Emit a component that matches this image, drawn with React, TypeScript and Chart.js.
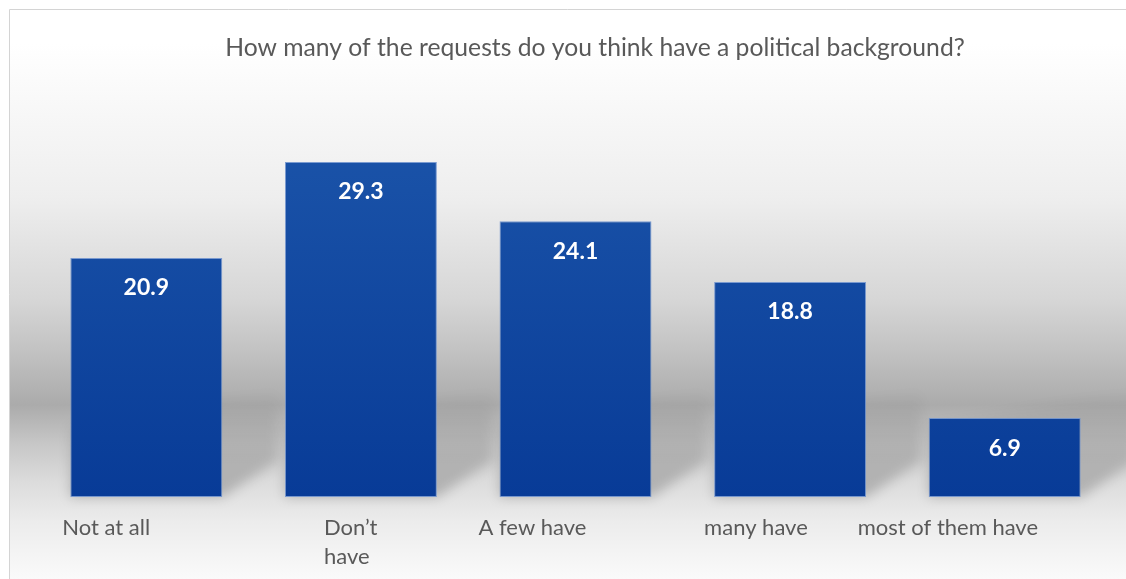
import React, { useEffect, useRef } from "react";
import { Chart, registerables } from "chart.js";

Chart.register(...registerables);

const title = "How many of the requests do you think have a political background?";
const categories: (string | string[])[] = ["Not at all", ["Don\u2019t", "have"], "A few have", "many have", "most of them have"];
const values = [20.9, 29.3, 24.1, 18.8, 6.9];
const labelOffsets = [-84, -37, -97, -86, -147];

const FONT = "Lato, 'Open Sans', sans-serif";

const decorPlugin = {
  id: "decor",
  beforeDraw(chart: any) {
    const ctx = chart.ctx as CanvasRenderingContext2D;
    const W = chart.width;
    const H = chart.height;
    ctx.save();
    ctx.fillStyle = "#ffffff";
    ctx.fillRect(0, 0, W, H);
    const g = ctx.createLinearGradient(0, 10, 0, H);
    g.addColorStop(0, "#ffffff");
    g.addColorStop(0.06, "#ffffff");
    g.addColorStop(0.17, "#f8f8f8");
    g.addColorStop(0.33, "#eeeeee");
    g.addColorStop(0.51, "#d6d6d6");
    g.addColorStop(0.6, "#c2c2c2");
    g.addColorStop(0.694, "#ababab");
    g.addColorStop(0.76, "#c6c6c6");
    g.addColorStop(0.83, "#dcdcdc");
    g.addColorStop(0.9, "#ececec");
    g.addColorStop(1, "#fafafa");
    ctx.fillStyle = g;
    ctx.fillRect(10, 10, W - 10, H - 10);
    ctx.strokeStyle = "#d4d4d4";
    ctx.lineWidth = 1;
    ctx.beginPath();
    ctx.moveTo(9.5, H);
    ctx.lineTo(9.5, 9.5);
    ctx.lineTo(W, 9.5);
    ctx.stroke();

    ctx.fillStyle = "#595959";
    ctx.font = `24.7px ${FONT}`;
    ctx.textAlign = "center";
    ctx.textBaseline = "middle";
    ctx.fillText(title, 595, 48);
    ctx.restore();
  },
  beforeDatasetsDraw(chart: any) {
    const ctx = chart.ctx as CanvasRenderingContext2D;
    const meta = chart.getDatasetMeta(0);
    ctx.save();
    ctx.filter = "blur(6px)";
    meta.data.forEach((el: any) => {
      const half = el.width / 2;
      const left = el.x - half;
      const right = el.x + half;
      const bottom = el.base;
      const dx = 55;
      const dy = 36;
      const h = Math.min(70, bottom - el.y);
      const g = ctx.createLinearGradient(0, bottom, 0, bottom - dy - h);
      g.addColorStop(0, "rgba(0,0,0,0.22)");
      g.addColorStop(1, "rgba(0,0,0,0)");
      ctx.fillStyle = g;
      ctx.beginPath();
      ctx.moveTo(left, bottom);
      ctx.lineTo(right, bottom);
      ctx.lineTo(right + dx, bottom - dy);
      ctx.lineTo(right + dx, bottom - dy - h);
      ctx.lineTo(left, bottom - h);
      ctx.closePath();
      ctx.fill();
    });
    ctx.restore();
  },
  afterDatasetsDraw(chart: any) {
    const ctx = chart.ctx as CanvasRenderingContext2D;
    const meta = chart.getDatasetMeta(0);
    const xScale = chart.scales.x;
    const area = chart.chartArea;
    ctx.save();
    ctx.fillStyle = "#ffffff";
    ctx.font = `bold 23px ${FONT}`;
    ctx.textAlign = "center";
    ctx.textBaseline = "middle";
    meta.data.forEach((el: any, i: number) => {
      ctx.fillText(values[i].toFixed(1), el.x, el.y + 30);
    });
    ctx.fillStyle = "#595959";
    ctx.font = `22px ${FONT}`;
    ctx.textAlign = "left";
    categories.forEach((c, i) => {
      const lines = Array.isArray(c) ? c : [c];
      const x = xScale.getPixelForValue(i) + labelOffsets[i];
      lines.forEach((ln, j) => {
        ctx.fillText(ln, x, area.bottom + 31 + j * 29);
      });
    });
    ctx.restore();
  },
};

export default function App() {
  const ref = useRef<HTMLCanvasElement | null>(null);
  useEffect(() => {
    if (!ref.current) return;
    const ctx = ref.current.getContext("2d")!;
    const chart = new Chart(ctx, {
      type: "bar",
      data: {
        labels: categories.map((c) => (Array.isArray(c) ? c.join(" ") : c)),
        datasets: [
          {
            data: values,
            backgroundColor: (c: any) => {
              const ch = c.chart;
              const a = ch.chartArea;
              if (!a) return "#1450a3";
              const el = c.element;
              const top = el && typeof el.y === "number" ? el.y : a.top;
              const g = ch.ctx.createLinearGradient(0, top, 0, a.bottom);
              g.addColorStop(0, "#1b54a9");
              g.addColorStop(1, "#083b97");
              return g;
            },
            borderColor: "rgba(110,145,205,0.9)",
            borderWidth: 1,
            borderSkipped: false,
            categoryPercentage: 1,
            barPercentage: 0.708,
          },
        ],
      },
      options: {
        responsive: false,
        animation: false,
        layout: { padding: { left: 39, right: 14, top: 131, bottom: 82 } },
        plugins: { legend: { display: false }, title: { display: false }, tooltip: { enabled: false } },
        scales: {
          x: { display: false },
          y: { display: false, min: 0, max: 32 },
        },
      },
      plugins: [decorPlugin],
    });
    return () => chart.destroy();
  }, []);
  return (
    <div style={{ position: "absolute", left: 0, top: 0, width: 1126, height: 579 }}>
      <canvas ref={ref} width={1126} height={579} style={{ display: "block", width: 1126, height: 579 }} />
    </div>
  );
}
